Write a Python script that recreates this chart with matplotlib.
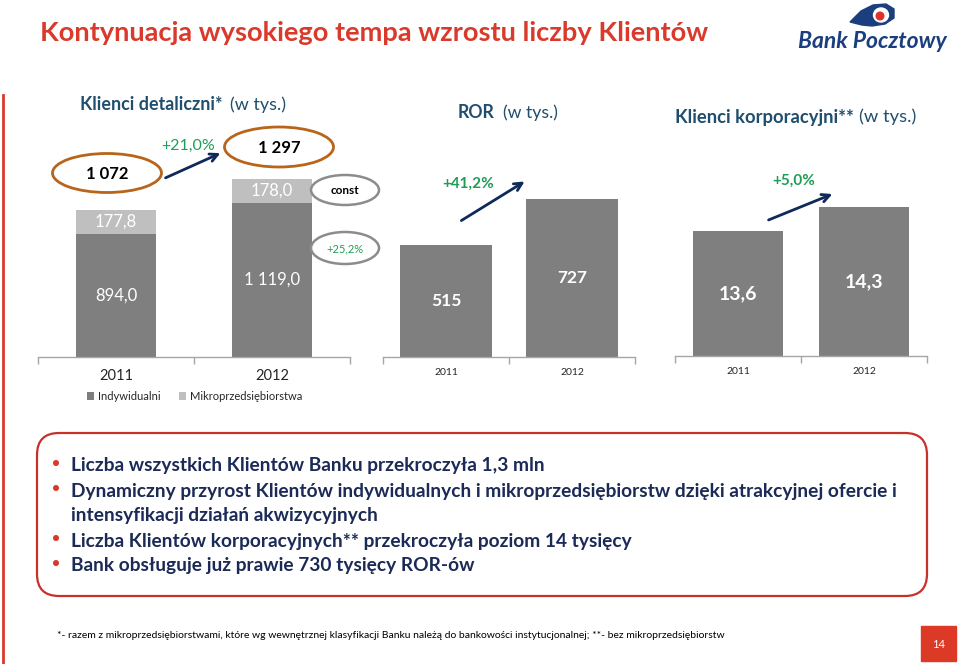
import matplotlib
matplotlib.use('Agg')
import matplotlib.pyplot as plt
from matplotlib.patches import Ellipse, FancyBboxPatch, Rectangle, Polygon, Circle
from matplotlib.lines import Line2D

# ---------------- data ----------------
years = ['2011', '2012']
indywidualni = [894.0, 1119.0]
mikro = [177.8, 178.0]
ror = [515, 727]
korpo = [13.6, 14.3]
growth_detal = '+21,0%'
growth_indyw = '+25,2%'
growth_ror = '+41,2%'
growth_korpo = '+5,0%'

plt.rcParams['font.family'] = ['Lato', 'DejaVu Sans']

W, H = 960, 664
fig = plt.figure(figsize=(9.6, 6.64), dpi=100)
fig.patch.set_facecolor('white')

RED = '#D93A2B'
TEAL = '#1F4E6E'
NAVY = '#1B2A56'
GREEN = '#1E9E55'
DARK = '#7F7F7F'
LIGHT = '#BFBFBF'
AXC = '#A6A6A6'


def fx(x):
    return x / W


def fy(y):
    return 1 - y / H


def add_axes_px(x0, x1, ybase, ytop):
    return fig.add_axes([fx(x0), fy(ybase), (x1 - x0) / W, (ybase - ytop) / H])


def fmt_pl(v, dec=1):
    s = f"{v:,.{dec}f}"
    return s.replace(',', ' ').replace('.', ',')


def style_axis(ax, tick_fs, pad):
    for s in ['top', 'left', 'right']:
        ax.spines[s].set_visible(False)
    ax.spines['bottom'].set_color(AXC)
    ax.spines['bottom'].set_linewidth(1.0)
    ax.set_yticks([])
    ax.set_xlim(-0.5, 1.5)
    ax.set_xticks([0, 1])
    ax.set_xticklabels(years, fontsize=tick_fs, color='#262626')
    ax.tick_params(axis='x', which='major', length=0, pad=pad)
    ax.set_xticks([-0.5, 0.5, 1.5], minor=True)
    ax.tick_params(axis='x', which='minor', length=5, color=AXC, width=1, direction='out')
    ax.patch.set_alpha(0)


# ---------------- chart 1: Klienci detaliczni ----------------
ax1 = add_axes_px(38, 350, 357, 100)
ax1.set_ylim(0, 257 / 0.1376)
b1 = ax1.bar(range(2), indywidualni, width=0.51, color=DARK, label='Indywidualni')
b2 = ax1.bar(range(2), mikro, width=0.51, bottom=indywidualni, color=LIGHT,
             label='Mikroprzedsiębiorstwa')
ax1.bar_label(b1, labels=[fmt_pl(v) for v in indywidualni], label_type='center',
              color='white', fontsize=12)
ax1.bar_label(b2, labels=[fmt_pl(v) for v in mikro], label_type='center',
              color='white', fontsize=12)
style_axis(ax1, 10.5, 9)
leg = ax1.legend(loc='upper left', bbox_to_anchor=(fx(87), fy(391)),
                 bbox_transform=fig.transFigure, ncol=2, frameon=False, fontsize=8,
                 handlelength=0.65, handleheight=0.65, handletextpad=0.35,
                 columnspacing=1.6, borderaxespad=0, borderpad=0)
for t in leg.get_texts():
    t.set_color('#262626')

# ---------------- chart 2: ROR ----------------
ax2 = add_axes_px(383, 635, 357, 100)
ax2.set_ylim(0, 257 / 0.2175)
b3 = ax2.bar(range(2), ror, width=0.73, color=DARK)
ax2.bar_label(b3, labels=[str(v) for v in ror], label_type='center', color='white',
              fontsize=12.5, fontweight='bold')
style_axis(ax2, 7.5, 8)

# ---------------- chart 3: Klienci korporacyjni ----------------
ax3 = add_axes_px(675, 927, 356, 100)
ax3.set_ylim(10, 10 + 256 / 34.7)
b4 = ax3.bar(range(2), korpo, width=0.72, color=DARK)
ax3.bar_label(b4, labels=[fmt_pl(v) for v in korpo], label_type='center', color='white',
              fontsize=14, fontweight='bold')
style_axis(ax3, 7.5, 8)

# ---------------- overlay (pixel coords) ----------------
ov = fig.add_axes([0, 0, 1, 1], zorder=10)
ov.set_xlim(0, W)
ov.set_ylim(H, 0)
ov.axis('off')
ov.patch.set_alpha(0)

fig.canvas.draw()
renderer = fig.canvas.get_renderer()


def two_part(x, y, bold_txt, norm_txt, fs, color, gap=5):
    t1 = ov.text(x, y, bold_txt, fontsize=fs, fontweight='bold', color=color,
                 va='center', ha='left')
    bb = t1.get_window_extent(renderer=renderer)
    ov.text(x + bb.width + gap, y, norm_txt, fontsize=fs, color=color,
            va='center', ha='left')


# main title
ov.text(40, 33, 'Kontynuacja wysokiego tempa wzrostu liczby Klientów', fontsize=19.6,
        fontweight='bold', color=RED, va='center', ha='left')

# red vertical line at left
ov.add_line(Line2D([2.5, 2.5], [95, 664], color=RED, lw=2))

# logo
ov.text(872, 42, 'Bank Pocztowy', fontsize=16.5, fontweight='bold', fontstyle='italic',
        color='#1B3F7E', va='center', ha='center')
ov.add_patch(Polygon([(850, 22), (861, 11), (873, 5), (886, 4), (894, 9), (894, 18),
                      (885, 24), (872, 26), (862, 25)], closed=True, color='#1B3F7E'))
ov.add_patch(Ellipse((881, 15), 15, 14, color='white'))
ov.add_patch(Circle((880, 16), 3.8, color='#E0312B'))

# chart titles
two_part(80, 105, 'Klienci detaliczni*', '(w tys.)', 12.9, TEAL, gap=8)
two_part(458, 113, 'ROR', '(w tys.)', 12.7, TEAL, gap=8)
two_part(675, 117, 'Klienci korporacyjni**', '(w tys.)', 13.2, TEAL, gap=5)

# chart 1 annotations
ORANGE = '#B8651B'
GREY = '#8C8C8C'
ov.add_patch(Ellipse((107, 173), 109, 39, fill=False, ec=ORANGE, lw=2))
ov.text(107, 174, fmt_pl(sum([indywidualni[0], mikro[0]]), 0), fontsize=12,
        fontweight='bold', color='black', ha='center', va='center')
ov.add_patch(Ellipse((279, 147), 109, 40, fill=False, ec=ORANGE, lw=2))
ov.text(279, 148, fmt_pl(sum([indywidualni[1], mikro[1]]), 0), fontsize=12,
        fontweight='bold', color='black', ha='center', va='center')
ov.text(188, 146, growth_detal, fontsize=11.5, color=GREEN, ha='center', va='center')
ov.annotate('', xy=(223, 152), xytext=(163, 179),
            arrowprops=dict(arrowstyle='->', color='#0F2A5A', lw=2, mutation_scale=14))
ov.add_patch(Ellipse((345, 190), 68, 30, fill=False, ec=GREY, lw=1.8))
ov.text(345, 190, 'const', fontsize=8.5, fontweight='bold', color='black',
        ha='center', va='center')
ov.add_patch(Ellipse((345, 248), 68, 32, fill=False, ec=GREY, lw=1.8))
ov.text(345, 249, growth_indyw, fontsize=8, color=GREEN, ha='center', va='center')

# chart 2 annotations
ov.text(468, 184, growth_ror, fontsize=11, fontweight='bold', color=GREEN,
        ha='center', va='center')
ov.annotate('', xy=(527, 180), xytext=(459, 222),
            arrowprops=dict(arrowstyle='->', color='#0F2A5A', lw=2, mutation_scale=14))

# chart 3 annotations
ov.text(794, 181, growth_korpo, fontsize=11, fontweight='bold', color=GREEN,
        ha='center', va='center')
ov.annotate('', xy=(835, 193), xytext=(766, 221),
            arrowprops=dict(arrowstyle='->', color='#0F2A5A', lw=2, mutation_scale=14))

# text box
ov.add_patch(FancyBboxPatch((37, 433), 890, 163,
                            boxstyle='round,pad=0,rounding_size=22',
                            fill=False, ec='#C8312A', lw=1.6))
lines = [
    (466, True, 'Liczba wszystkich Klientów Banku przekroczyła 1,3 mln'),
    (491, True, 'Dynamiczny przyrost Klientów indywidualnych i mikroprzedsiębiorstw dzięki atrakcyjnej ofercie i'),
    (516, False, 'intensyfikacji działań akwizycyjnych'),
    (541, True, 'Liczba Klientów korporacyjnych** przekroczyła poziom 14 tysięcy'),
    (566, True, 'Bank obsługuje już prawie 730 tysięcy ROR-ów'),
]
for y, bullet, txt in lines:
    if bullet:
        ov.add_patch(Circle((56, y - 3), 2.3, color='#D9382B'))
    ov.text(71, y, txt, fontsize=13.8, fontweight='bold', color=NAVY,
            ha='left', va='center')

# footnote
ov.text(57, 636, '*- razem z mikroprzedsiębiorstwami, które wg wewnętrznej klasyfikacji '
        'Banku należą do bankowości instytucjonalnej; **- bez mikroprzedsiębiorstw',
        fontsize=7.45, color='black', ha='left', va='center')

# page number
ov.add_patch(Rectangle((921, 626), 35, 35, color='#DC3A26'))
ov.text(938.5, 644, '14', fontsize=8, color='white', ha='center', va='center')

fig.savefig('out.png', dpi=100)
